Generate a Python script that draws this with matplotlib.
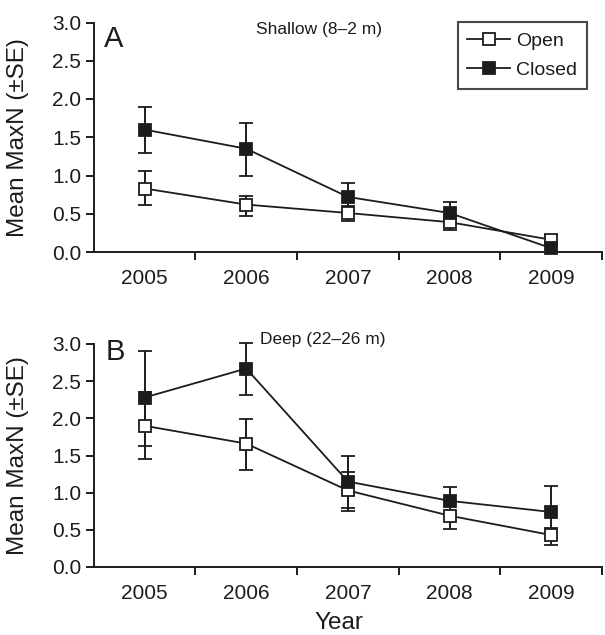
import matplotlib
matplotlib.use('Agg')
import matplotlib.pyplot as plt
from matplotlib.lines import Line2D

plt.rcParams['font.family'] = ['Liberation Sans', 'DejaVu Sans']

############# data ########################################
years = ['2005', '2006', '2007', '2008', '2009']

# shallow (panel A)
sh_open = [0.83, 0.62, 0.51, 0.39, 0.16]
sh_open_lo = [0.61, 0.47, 0.41, 0.29, 0.10]
sh_open_hi = [1.06, 0.73, 0.60, 0.49, 0.22]
sh_closed = [1.60, 1.35, 0.72, 0.51, 0.05]
sh_closed_lo = [1.29, 0.99, 0.54, 0.36, 0.00]
sh_closed_hi = [1.90, 1.69, 0.90, 0.66, 0.10]

# deep (panel B)
dp_open = [1.90, 1.66, 1.03, 0.69, 0.43]
dp_open_lo = [1.45, 1.31, 0.75, 0.51, 0.30]
dp_open_hi = [2.35, 1.99, 1.28, 0.87, 0.52]
dp_closed = [2.28, 2.67, 1.15, 0.89, 0.74]
dp_closed_lo = [1.63, 2.32, 0.80, 0.71, 0.39]
dp_closed_hi = [2.90, 3.02, 1.50, 1.07, 1.09]

col = '#1c1c1c'
fig = plt.figure(figsize=(6.05, 6.35), dpi=100)
axA = fig.add_axes([0.155, 1 - 252/635, 0.84, 229.5/635])
axB = fig.add_axes([0.155, 1 - 567/635, 0.84, 223/635])

def draw(ax, op, op_lo, op_hi, cl, cl_lo, cl_hi):
    x = list(range(len(years)))
    for vals, lo, hi, face in [(op, op_lo, op_hi, 'white'), (cl, cl_lo, cl_hi, col)]:
        err = [[v - l for v, l in zip(vals, lo)], [h - v for v, h in zip(vals, hi)]]
        ax.errorbar(x, vals, yerr=err, color=col, lw=1.3, elinewidth=1.4,
                    capsize=4.8, capthick=1.4, marker='s', ms=8,
                    mfc=face, mec=col, mew=1.3, clip_on=False, zorder=3)
    ax.set_xlim(-0.5, 4.5)
    ax.set_ylim(0, 3.0)
    ax.set_yticks([0, 0.5, 1.0, 1.5, 2.0, 2.5, 3.0])
    ax.set_yticklabels(['0.0', '0.5', '1.0', '1.5', '2.0', '2.5', '3.0'])
    ax.set_xticks(x)
    ax.set_xticklabels(years)
    ax.set_xticks([0.5, 1.5, 2.5, 3.5, 4.5], minor=True)
    ax.tick_params(axis='x', which='major', length=0, pad=12, labelsize=15, colors=col)
    ax.tick_params(axis='x', which='minor', length=6, width=1.4, color=col)
    ax.tick_params(axis='y', length=6, width=1.4, pad=3, labelsize=15, color=col, labelcolor=col)
    for s in ['top', 'right']:
        ax.spines[s].set_visible(False)
    for s in ['left', 'bottom']:
        ax.spines[s].set_linewidth(1.4)
        ax.spines[s].set_color(col)
    ax.set_ylabel('Mean MaxN (\u00b1SE)', fontsize=17.5, color=col)
    ax.yaxis.set_label_coords(-0.128, 0.5)

draw(axA, sh_open, sh_open_lo, sh_open_hi, sh_closed, sh_closed_lo, sh_closed_hi)
draw(axB, dp_open, dp_open_lo, dp_open_hi, dp_closed, dp_closed_lo, dp_closed_hi)

axA.text(0.02, 0.93, 'A', transform=axA.transAxes, fontsize=21, va='center', ha='left', color=col)
axB.text(0.024, 0.964, 'B', transform=axB.transAxes, fontsize=21, va='center', ha='left', color=col)
axA.text(0.443, 0.97, 'Shallow (8\u20132 m)', transform=axA.transAxes, fontsize=12.5,
         va='center', ha='center', color=col)
axB.text(0.327, 1.022, 'Deep (22\u201326 m)', transform=axB.transAxes, fontsize=12.5,
         va='center', ha='left', color=col)

axB.set_xlabel('Year', fontsize=17.5, color=col)
axB.xaxis.set_label_coords(0.482, -0.2)

handles = [Line2D([], [], color=col, lw=1.3, marker='s', ms=8, mfc='white', mec=col, mew=1.3),
           Line2D([], [], color=col, lw=1.3, marker='s', ms=8, mfc=col, mec=col, mew=1.3)]
leg = axA.legend(handles, ['Open', 'Closed'], loc='upper right', bbox_to_anchor=(0.97, 1.0),
                 borderaxespad=0, fontsize=14, frameon=True, fancybox=False,
                 handlelength=2.2, handletextpad=0.3, labelspacing=0.6, borderpad=0.5)
leg.get_frame().set_edgecolor(col)
leg.get_frame().set_linewidth(1.5)
for t in leg.get_texts():
    t.set_color(col)

plt.savefig('out.png', dpi=100)
